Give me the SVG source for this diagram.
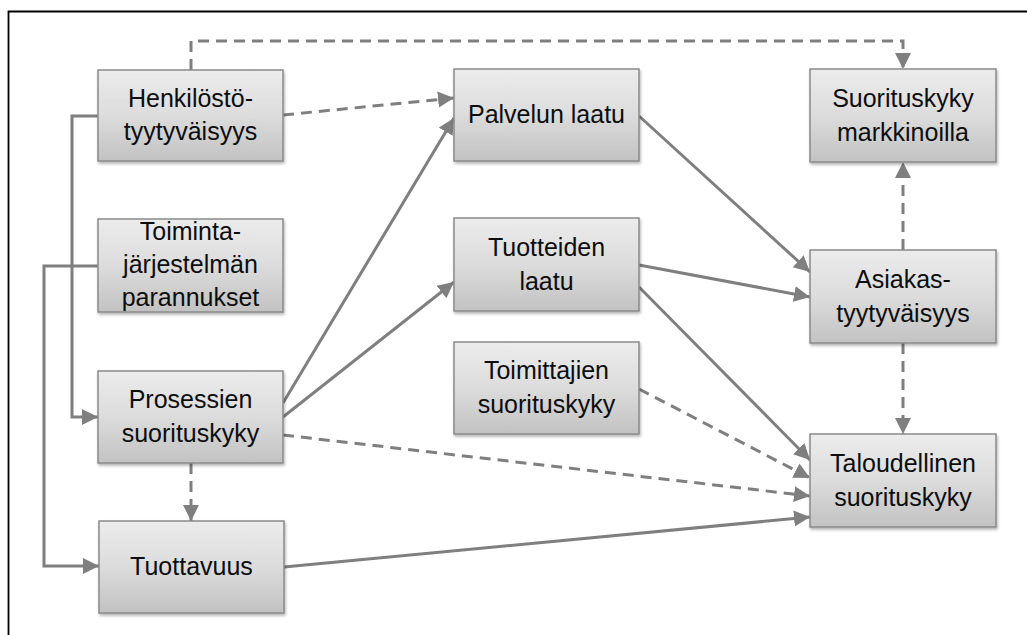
<svg xmlns="http://www.w3.org/2000/svg" width="1027" height="635" viewBox="0 0 1027 635">
  <style>
    .box { fill: url(#boxFill); stroke: #8a8a8a; stroke-width: 1.5; filter: url(#shadow); }
    .lbl { font-family: "Liberation Sans", Arial, sans-serif; font-size: 25px; fill: #0d0d0d; text-anchor: middle; }
    .c { fill: none; stroke: #7f7f7f; stroke-width: 3; }
    .d { stroke-dasharray: 11 7; }
    .a { marker-end: url(#arrow); }
  </style>
  <defs>
    <linearGradient id="boxFill" x1="0" y1="0" x2="0" y2="1">
      <stop offset="0" stop-color="#ececec"/>
      <stop offset="0.5" stop-color="#dcdcdc"/>
      <stop offset="1" stop-color="#c2c2c2"/>
    </linearGradient>
    <filter id="shadow" x="-10%" y="-10%" width="125%" height="130%">
      <feGaussianBlur in="SourceAlpha" stdDeviation="1.5"/>
      <feOffset dx="1" dy="2" result="b"/>
      <feComponentTransfer><feFuncA type="linear" slope="0.3"/></feComponentTransfer>
      <feMerge><feMergeNode/><feMergeNode in="SourceGraphic"/></feMerge>
    </filter>
    <marker id="arrow" markerUnits="userSpaceOnUse" markerWidth="17" markerHeight="17" viewBox="0 0 17 17" refX="16" refY="8.5" orient="auto">
      <path d="M0,0.5 L16,8.5 L0,16.5 Z" fill="#7f7f7f"/>
    </marker>
  </defs>

  <rect width="1027" height="635" fill="#ffffff"/>
  <!-- frame (left and top edges) -->
  <path d="M8.5,635 V11.5 H1027" fill="none" stroke="#000" stroke-width="1.8"/>

  <g id="connectors">
    <path class="c d a" d="M191,70 V41 H903 V69"/>
    <path class="c d a" d="M283,115 L454,98"/>
    <path class="c a" d="M98,116 H72 V417 H98"/>
    <path class="c a" d="M98,266 H44 V566 H99"/>
    <path class="c a" d="M283,403 L454,118"/>
    <path class="c a" d="M283,417 L454,282"/>
    <path class="c d a" d="M283,435 L810,496"/>
    <path class="c d a" d="M191,463 V521"/>
    <path class="c a" d="M284,567 L810,517"/>
    <path class="c a" d="M639,116 L810,272"/>
    <path class="c a" d="M639,265 L810,297"/>
    <path class="c a" d="M639,287 L810,460"/>
    <path class="c d a" d="M639,389 L810,478"/>
    <path class="c d a" d="M903,250 V162"/>
    <path class="c d a" d="M903,343 V434"/>
  </g>

  <g id="henkilosto">
    <rect class="box" x="98" y="70" width="185" height="91"/>
    <text class="lbl" x="190.5" y="107">Henkilöstö-</text>
    <text class="lbl" x="190.5" y="140">tyytyväisyys</text>
  </g>
  <g id="toimintajarjestelma">
    <rect class="box" x="98" y="219" width="185" height="93"/>
    <text class="lbl" x="190.5" y="240">Toiminta-</text>
    <text class="lbl" x="190.5" y="273">järjestelmän</text>
    <text class="lbl" x="190.5" y="306">parannukset</text>
  </g>
  <g id="prosessit">
    <rect class="box" x="98" y="371" width="185" height="92"/>
    <text class="lbl" x="190.5" y="408">Prosessien</text>
    <text class="lbl" x="190.5" y="442">suorituskyky</text>
  </g>
  <g id="tuottavuus">
    <rect class="box" x="99" y="521" width="185" height="92"/>
    <text class="lbl" x="191.5" y="575">Tuottavuus</text>
  </g>
  <g id="palvelun-laatu">
    <rect class="box" x="454" y="69" width="185" height="92"/>
    <text class="lbl" x="546.5" y="123">Palvelun laatu</text>
  </g>
  <g id="tuotteiden-laatu">
    <rect class="box" x="454" y="218" width="185" height="93"/>
    <text class="lbl" x="546.5" y="256">Tuotteiden</text>
    <text class="lbl" x="546.5" y="290">laatu</text>
  </g>
  <g id="toimittajat">
    <rect class="box" x="454" y="342" width="185" height="92"/>
    <text class="lbl" x="546.5" y="379">Toimittajien</text>
    <text class="lbl" x="546.5" y="413">suorituskyky</text>
  </g>
  <g id="markkinat">
    <rect class="box" x="810" y="69" width="186" height="93"/>
    <text class="lbl" x="903" y="107">Suorituskyky</text>
    <text class="lbl" x="903" y="141">markkinoilla</text>
  </g>
  <g id="asiakas">
    <rect class="box" x="810" y="250" width="186" height="93"/>
    <text class="lbl" x="903" y="288">Asiakas-</text>
    <text class="lbl" x="903" y="322">tyytyväisyys</text>
  </g>
  <g id="talous">
    <rect class="box" x="810" y="434" width="186" height="93"/>
    <text class="lbl" x="903" y="472">Taloudellinen</text>
    <text class="lbl" x="903" y="506">suorituskyky</text>
  </g>
</svg>
